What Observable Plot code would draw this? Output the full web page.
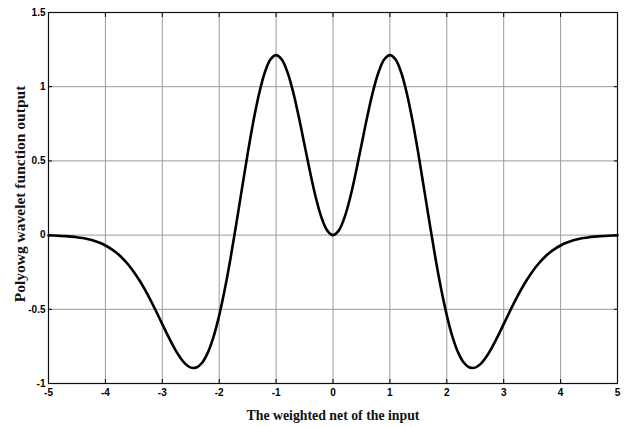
<!DOCTYPE html>
<html>
<head>
<meta charset="utf-8">
<script src="https://cdn.jsdelivr.net/npm/d3@7"></script>
<script src="https://cdn.jsdelivr.net/npm/@observablehq/plot@0.6"></script>
<style>
  html, body { margin: 0; padding: 0; background: #fff; }
  svg { display: block; }
</style>
</head>
<body>
<div id="chart"></div>
<script>
// Sampled wavelet response, step 0.1 on the weighted net input
const xs = [
  -5.0,-4.9,-4.8,-4.7,-4.6,-4.5,-4.4,-4.3,-4.2,-4.1,
  -4.0,-3.9,-3.8,-3.7,-3.6,-3.5,-3.4,-3.3,-3.2,-3.1,
  -3.0,-2.9,-2.8,-2.7,-2.6,-2.5,-2.4,-2.3,-2.2,-2.1,
  -2.0,-1.9,-1.8,-1.7,-1.6,-1.5,-1.4,-1.3,-1.2,-1.1,
  -1.0,-0.9,-0.8,-0.7,-0.6,-0.5,-0.4,-0.3,-0.2,-0.1,
   0.0, 0.1, 0.2, 0.3, 0.4, 0.5, 0.6, 0.7, 0.8, 0.9,
   1.0, 1.1, 1.2, 1.3, 1.4, 1.5, 1.6, 1.7, 1.8, 1.9,
   2.0, 2.1, 2.2, 2.3, 2.4, 2.5, 2.6, 2.7, 2.8, 2.9,
   3.0, 3.1, 3.2, 3.3, 3.4, 3.5, 3.6, 3.7, 3.8, 3.9,
   4.0, 4.1, 4.2, 4.3, 4.4, 4.5, 4.6, 4.7, 4.8, 4.9,
   5.0
];
const ys = [
  -0.002,-0.003,-0.005,-0.007,-0.010,-0.014,-0.020,-0.028,-0.038,-0.052,
  -0.070,-0.093,-0.121,-0.156,-0.198,-0.248,-0.306,-0.371,-0.443,-0.520,
  -0.600,-0.679,-0.753,-0.817,-0.866,-0.893,-0.892,-0.860,-0.792,-0.686,
  -0.541,-0.362,-0.154, 0.075, 0.313, 0.548, 0.765, 0.951, 1.094, 1.183,
   1.213, 1.183, 1.097, 0.963, 0.794, 0.607, 0.420, 0.250, 0.116, 0.030,
   0.000,
   0.030, 0.116, 0.250, 0.420, 0.607, 0.794, 0.963, 1.097, 1.183,
   1.213, 1.183, 1.094, 0.951, 0.765, 0.548, 0.313, 0.075,-0.154,-0.362,
  -0.541,-0.686,-0.792,-0.860,-0.892,-0.893,-0.866,-0.817,-0.753,-0.679,
  -0.600,-0.520,-0.443,-0.371,-0.306,-0.248,-0.198,-0.156,-0.121,-0.093,
  -0.070,-0.052,-0.038,-0.028,-0.020,-0.014,-0.010,-0.007,-0.005,-0.003,
  -0.002
];
const xTicks = [-5, -4, -3, -2, -1, 0, 1, 2, 3, 4, 5];
const yTicks = [-1, -0.5, 0, 0.5, 1, 1.5];
const xTitle = "The weighted net of the input";
const yTitle = "Polyowg wavelet function output";

const points = xs.map((x, i) => ({x, y: ys[i]}));
const fmt = d => String(d).replace("\u2212", "-");

const tickFont = {fontFamily: "'Liberation Sans', Arial, sans-serif", fontWeight: "bold", fontSize: 10};
const titleFont = {fontFamily: "'Liberation Serif', 'Times New Roman', serif", fontWeight: "bold", fill: "#111", textAnchor: "middle", lineAnchor: "middle"};

const chart = Plot.plot({
  width: 624,
  height: 427,
  marginLeft: 48,
  marginRight: 7,
  marginTop: 12,
  marginBottom: 44,
  x: {domain: [-5, 5]},
  y: {domain: [-1, 1.5]},
  style: {background: "#fff"},
  marks: [
    Plot.gridX(xTicks, {stroke: "#9a9a9a", strokeOpacity: 1, strokeWidth: 1}),
    Plot.gridY(yTicks, {stroke: "#9a9a9a", strokeOpacity: 1, strokeWidth: 1}),
    Plot.axisX(xTicks, {anchor: "bottom", tickSize: -4, tickPadding: 9, tickFormat: fmt, label: null, ...tickFont, letterSpacing: -0.5}),
    Plot.axisX(xTicks, {anchor: "top", tickSize: -4, tickFormat: null, label: null, text: null}),
    Plot.axisY(yTicks, {anchor: "left", tickSize: -4, tickPadding: 7, tickFormat: fmt, label: null, ...tickFont, letterSpacing: -0.5}),
    Plot.axisY(yTicks, {anchor: "right", tickSize: -4, label: null, text: null}),
    Plot.frame({stroke: "#111", strokeWidth: 1.2}),
    Plot.line(points, {x: "x", y: "y", stroke: "#000", strokeWidth: 2.6, curve: "catmull-rom"}),
    Plot.text([xTitle], {frameAnchor: "bottom", dy: 32, fontSize: 13.8, ...titleFont}),
    Plot.text([yTitle], {frameAnchor: "left", dx: -28, dy: -4, rotate: -90, fontSize: 15.5, ...titleFont})
  ]
});

document.getElementById("chart").appendChild(chart);
</script>
</body>
</html>
